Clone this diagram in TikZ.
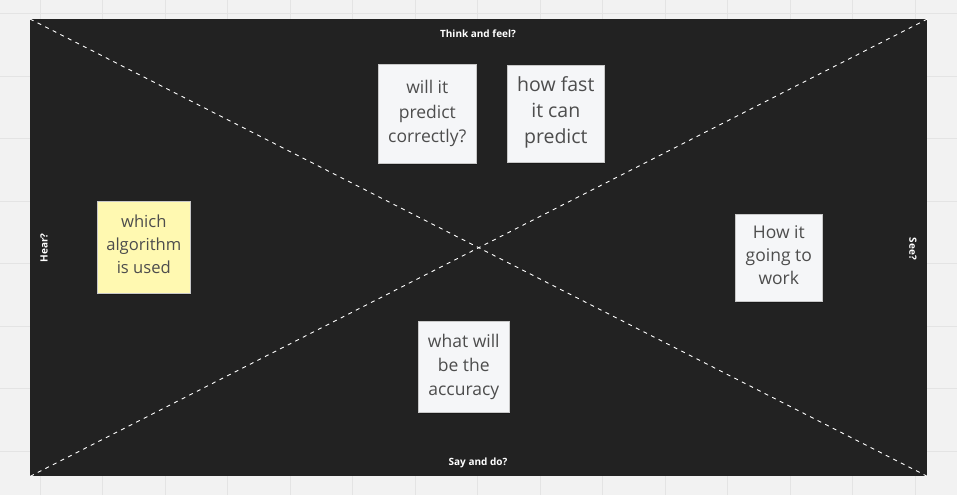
\documentclass[tikz,border=0pt]{standalone}
\usepackage{fontspec}
\setmainfont{Open Sans}
\usetikzlibrary{calc}
\definecolor{bgcol}{HTML}{F2F2F2}
\definecolor{gridcol}{HTML}{E4E4E4}
\definecolor{boardcol}{HTML}{222222}
\definecolor{stickywhite}{HTML}{F5F6F8}
\definecolor{stickyyellow}{HTML}{FFF9B1}
\definecolor{stickytext}{HTML}{4D4D4D}
\definecolor{stickyedge}{HTML}{C8C8C8}
\begin{document}
\begin{tikzpicture}[x=1pt,y=-1pt,
  sticky/.style={draw=stickyedge, line width=0.6pt, fill=stickywhite, anchor=north west,
    inner sep=0pt, align=center, text=stickytext,
    font=\fontsize{17.5}{24.5}\selectfont},
  quadlabel/.style={text=white, font=\bfseries\fontsize{10}{12}\selectfont, inner sep=0pt},
  diag/.style={draw=white, line width=0.9pt, dash pattern=on 4pt off 4.5pt}
]
\useasboundingbox (0,0) rectangle (957,495);
\fill[bgcol] (0,0) rectangle (957,495);
% grid
\foreach \gx in {40,102.5,...,916} {\draw[gridcol, line width=0.8pt] (\gx,0) -- (\gx,495);}
\foreach \gy in {13.5,76,...,452} {\draw[gridcol, line width=0.8pt] (0,\gy) -- (957,\gy);}
% board
\node[fill=boardcol, draw=none, minimum width=897pt, minimum height=457pt, inner sep=0pt, anchor=north west] (board) at (30,19) {};
\coordinate (tl) at (board.north west);
\coordinate (tr) at (board.north east);
\coordinate (bl) at (board.south west);
\coordinate (br) at (board.south east);
\draw[diag] (tl) -- (br);
\draw[diag] (tr) -- (bl);
% quadrant labels
\node[quadlabel] (think) at (478,34) {Think and feel?};
\node[quadlabel] (say) at (478,463) {Say and do?};
\node[quadlabel, rotate=90] (hear) at (44,248) {Hear?};
\node[quadlabel, rotate=-90] (see) at (913,249) {See?};
% shadows
\fill[black, opacity=0.25] (380,160) rectangle (477,165);
\fill[black, opacity=0.25] (509,159) rectangle (605,164);
\fill[black, opacity=0.25] (99,290) rectangle (191,295);
\fill[black, opacity=0.25] (737,298) rectangle (823,303);
\fill[black, opacity=0.25] (420,409) rectangle (510,414);
% sticky notes
\node[sticky, minimum width=98pt, minimum height=99pt] (n1) at (378,64) {will it\\predict\\correctly?};
\node[sticky, minimum width=97pt, minimum height=97pt, font=\fontsize{19.5}{26}\selectfont, text depth=8pt] (n2) at (507,65) {how fast\\it can\\predict};
\node[sticky, fill=stickyyellow, minimum width=93pt, minimum height=92pt, font=\fontsize{16.6}{23}\selectfont, text depth=6pt] (n3) at (97,201) {which\\algorithm\\is used};
\node[sticky, minimum width=87pt, minimum height=87pt, font=\fontsize{17.5}{23}\selectfont, text depth=6pt] (n4) at (735,214) {How it\\going to\\work};
\node[sticky, minimum width=91pt, minimum height=91pt, font=\fontsize{17.5}{24}\selectfont] (n5) at (418,321) {what will\\be the\\accuracy};
\end{tikzpicture}
\end{document}
